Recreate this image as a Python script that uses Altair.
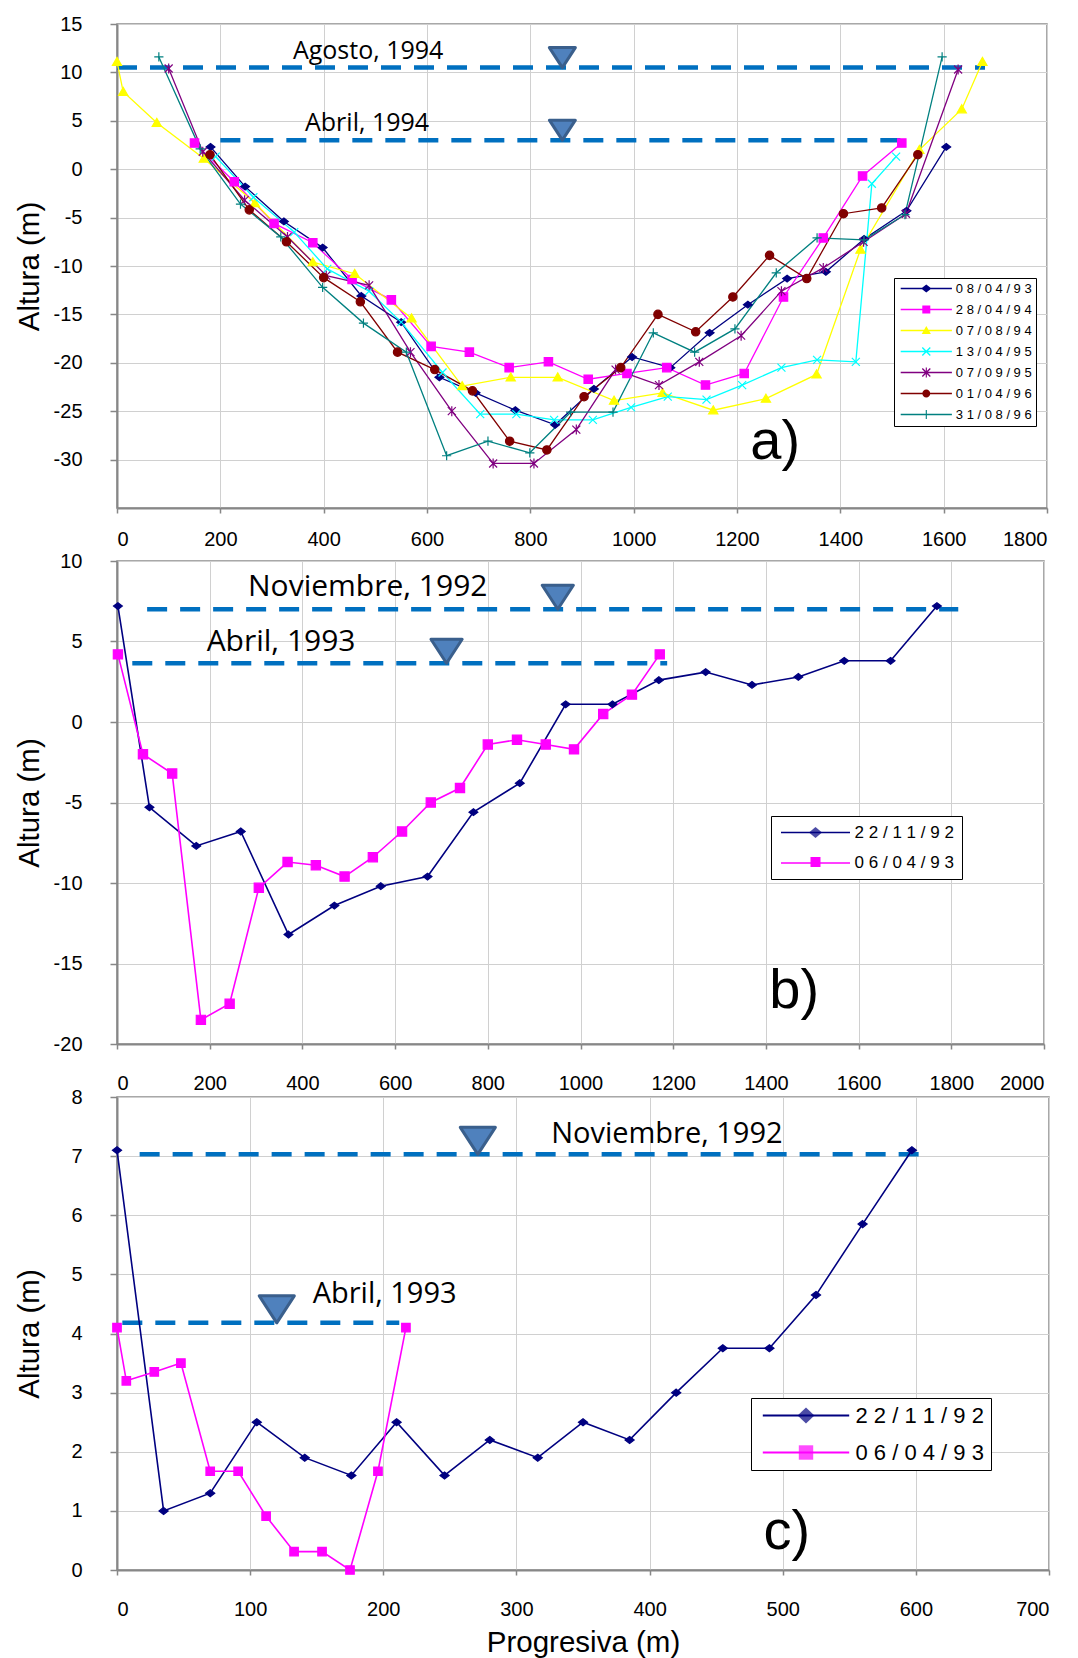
import altair as alt
import pandas as pd

# ====================== Panel a) ======================
A_NAMES = ["08/04/93", "28/04/94", "07/08/94", "13/04/95", "07/09/95", "01/04/96", "31/08/96"]
A_COLORS = ["#000080", "#FF00FF", "#FFFF00", "#00FFFF", "#800080", "#800000", "#008080"]

A_X_080493 = [181, 248, 323, 398, 473, 550, 624, 694, 771, 848, 923, 997, 1071, 1147, 1221, 1297, 1372, 1446, 1528, 1605]
A_Y_080493 = [2.3, -1.8, -5.4, -8.1, -13.1, -15.8, -21.5, -23.1, -24.9, -26.4, -22.7, -19.4, -20.5, -16.9, -14.0, -11.3, -10.6, -7.2, -4.3, 2.3]
A_X_280494 = [150, 227, 304, 379, 455, 531, 608, 682, 759, 835, 912, 987, 1064, 1139, 1214, 1290, 1367, 1443, 1519]
A_Y_280494 = [2.7, -1.3, -5.6, -7.6, -11.4, -13.5, -18.3, -18.9, -20.5, -19.9, -21.7, -21.1, -20.5, -22.3, -21.1, -13.2, -7.1, -0.7, 2.7]
A_X_070894 = [0, 12, 77, 168, 267, 379, 460, 570, 668, 762, 853, 962, 1056, 1154, 1256, 1354, 1439, 1553, 1635, 1675]
A_Y_070894 = [11.1, 8.0, 4.8, 1.1, -3.5, -9.6, -10.8, -15.4, -22.4, -21.5, -21.5, -23.9, -23.1, -24.9, -23.7, -21.2, -8.3, 2.0, 6.2, 11.1]
A_X_130495 = [191, 264, 343, 407, 488, 550, 630, 703, 773, 846, 921, 995, 1066, 1141, 1210, 1286, 1355, 1430, 1461, 1508]
A_Y_130495 = [1.3, -2.9, -6.5, -10.3, -12.6, -15.8, -21.0, -25.3, -25.3, -25.9, -25.9, -24.6, -23.5, -23.8, -22.3, -20.5, -19.7, -19.9, -1.5, 1.3]
A_X_070995 = [100, 166, 247, 330, 405, 488, 568, 648, 728, 807, 889, 965, 1049, 1127, 1208, 1286, 1367, 1445, 1527, 1628]
A_Y_070995 = [10.4, 1.8, -3.2, -7.0, -11.0, -12.0, -18.9, -25.0, -30.4, -30.4, -26.9, -20.7, -22.3, -19.9, -17.2, -12.6, -10.2, -7.5, -4.6, 10.3]
A_X_010496 = [180, 256, 328, 400, 471, 543, 615, 688, 760, 832, 904, 975, 1047, 1120, 1192, 1263, 1335, 1406, 1480, 1550]
A_Y_010496 = [1.5, -4.2, -7.5, -11.2, -13.7, -18.9, -20.7, -22.9, -28.1, -29.0, -23.5, -20.5, -15.0, -16.8, -13.2, -8.9, -11.3, -4.6, -4.0, 1.5]
A_X_310896 = [81, 161, 239, 317, 398, 477, 560, 638, 718, 799, 878, 960, 1038, 1118, 1196, 1276, 1355, 1446, 1525, 1597]
A_Y_310896 = [11.6, 2.1, -3.6, -7.0, -12.2, -15.9, -18.9, -29.6, -28.1, -29.3, -25.1, -25.1, -16.9, -18.9, -16.5, -10.7, -7.1, -7.3, -4.7, 11.6]

A_WATER_NAME = ["Agosto, 1994", "Abril, 1994"]
A_WATER_LEVEL = [10.5, 3.0]
A_WATER_FROM = [0, 200]
A_WATER_TO = [1680, 1525]
A_WATER_SYMBOL_X = [862, 862]
A_WATER_LABEL_X = [486, 484]
A_WATER_LABEL_Y = [12.25, 4.8]
A_TAG = ["a)"]
A_TAG_X = [1274]
A_TAG_Y = [-28.2]

# ====================== Panel b) ======================
B_NAMES = ["22/11/92", "06/04/93"]
B_COLORS = ["#000080", "#FF00FF"]
B_X_221192 = [2, 70, 171, 267, 370, 469, 569, 670, 769, 869, 968, 1069, 1169, 1270, 1370, 1470, 1569, 1669, 1769]
B_Y_221192 = [7.2, -5.3, -7.7, -6.8, -13.2, -11.4, -10.2, -9.6, -5.6, -3.8, 1.1, 1.1, 2.6, 3.1, 2.3, 2.8, 3.8, 3.8, 7.2]
B_X_060493 = [2, 56, 119, 181, 243, 306, 368, 429, 491, 552, 615, 677, 740, 800, 863, 925, 986, 1049, 1111, 1171]
B_Y_060493 = [4.2, -2.0, -3.2, -18.5, -17.5, -10.3, -8.7, -8.9, -9.6, -8.4, -6.8, -5.0, -4.1, -1.4, -1.1, -1.4, -1.7, 0.5, 1.7, 4.2]

B_WATER_NAME = ["Noviembre, 1992", "Abril, 1993"]
B_WATER_LEVEL = [7.0, 3.65]
B_WATER_FROM = [65, 33]
B_WATER_TO = [1815, 1187]
B_WATER_SYMBOL_X = [951, 711]
B_WATER_LABEL_X = [541, 354]
B_WATER_LABEL_Y = [8.39, 4.97]
B_TAG = ["b)"]
B_TAG_X = [1461]
B_TAG_Y = [-16.7]

# ====================== Panel c) ======================
C_NAMES = ["22/11/92", "06/04/93"]
C_COLORS = ["#000080", "#FF00FF"]
C_X_221192 = [0, 35, 70, 105, 141, 176, 210, 246, 280, 316, 350, 385, 420, 455, 490, 525, 560, 597]
C_Y_221192 = [7.1, 1.0, 1.3, 2.5, 1.9, 1.6, 2.5, 1.6, 2.2, 1.9, 2.5, 2.2, 3.0, 3.75, 3.75, 4.65, 5.85, 7.1]
C_X_060493 = [0, 7, 28, 48, 70, 91, 112, 133, 154, 175, 196, 217]
C_Y_060493 = [4.1, 3.2, 3.35, 3.5, 1.67, 1.67, 0.91, 0.31, 0.31, 0.0, 1.67, 4.1]

C_WATER_NAME = ["Noviembre, 1992", "Abril, 1993"]
C_WATER_LEVEL = [7.03, 4.18]
C_WATER_FROM = [17, 4]
C_WATER_TO = [606, 212]
C_WATER_SYMBOL_X = [271, 120]
C_WATER_LABEL_X = [413, 201]
C_WATER_LABEL_Y = [7.37, 4.66]
C_TAG = ["c)"]
C_TAG_X = [503]
C_TAG_Y = [0.65]

# ====================== marker shapes (plot) ======================
DIAMOND = "M0,-1L1.3,0L0,1L-1.3,0Z"
SQUARE = "M-1,-1L1,-1L1,1L-1,1Z"
TRIANGLE = "M0,-1.1L1.15,0.9L-1.15,0.9Z"
XMARK = "M-1,-1L1,1M-1,1L1,-1"
ASTER = "M-1,-1L1,1M-1,1L1,-1M0,-1.25L0,1.25"
CIRCLE = "M-1,0A1,1,0,1,1,1,0A1,1,0,1,1,-1,0Z"
PLUS = "M-1.15,0L1.15,0M0,-1.15L0,1.15"
DOWN_TRI = "M-1.3,-2L1.3,-2L0,0Z"

# ====================== filled legend glyphs ======================
X_F = "M-0.88,-1.12L1.12,0.88L0.88,1.12L-1.12,-0.88ZM-1.12,0.88L0.88,-1.12L1.12,-0.88L-0.88,1.12Z"
VBAR_F = "M-0.14,-1.25L0.14,-1.25L0.14,1.25L-0.14,1.25Z"
PLUS_F = "M-1.15,-0.14L1.15,-0.14L1.15,0.14L-1.15,0.14ZM-0.14,-1.15L0.14,-1.15L0.14,1.15L-0.14,1.15Z"
LINE_A = "M-6.4,-0.16L6.4,-0.16L6.4,0.16L-6.4,0.16Z"
A_LEG_PATHS = [LINE_A + p for p in [DIAMOND, SQUARE, TRIANGLE, X_F, X_F + VBAR_F, CIRCLE, PLUS_F]]
LINE_B = "M-6.9,-0.16L6.9,-0.16L6.9,0.16L-6.9,0.16Z"
DIAMOND_B = "M0,-1.1L1.3,0L0,1.1L-1.3,0Z"
SQUARE_B = "M-1,-1L1,-1L1,1L-1,1Z"
LINE_C = "M-5.4,0L5.4,0"
DIAMOND_C = "M0,-1L1.05,0L0,1L-1.05,0Z"
SQUARE_C = "M-0.9,-0.9L0.9,-0.9L0.9,0.9L-0.9,0.9Z"

AXIS_LABEL = "'' + datum.value"
FONT = "Liberation Sans, Arial, sans-serif"
NAVY = "#000080"
MAGENTA = "#FF00FF"


def make_df(names, xs, ys):
    rows = []
    for n, xl, yl in zip(names, xs, ys):
        for i, (xv, yv) in enumerate(zip(xl, yl)):
            rows.append({"serie": n, "x": xv, "y": yv, "i": i, "v": 1})
    return pd.DataFrame(rows)


def panel(cfg, legend_layers_fn):
    df = make_df(cfg["names"], cfg["xs"], cfg["ys"])
    wdf = pd.DataFrame({
        "nombre": cfg["w_name"], "nivel": cfg["w_level"], "desde": cfg["w_from"],
        "hasta": cfg["w_to"], "simbolo": cfg["w_sym"], "lx": cfg["w_lx"], "ly": cfg["w_ly"],
    })
    tdf = pd.DataFrame({"t": cfg["tag"], "x": cfg["tag_x"], "y": cfg["tag_y"]})

    xscale = alt.Scale(domain=cfg["xdom"], nice=False, zero=False)
    yscale = alt.Scale(domain=cfg["ydom"], nice=False, zero=False)
    xaxis = alt.Axis(values=cfg["xticks"], grid=True, tickSize=5, labelExpr=AXIS_LABEL,
                     labelPadding=cfg["xlabpad"], titlePadding=9)
    yaxis = alt.Axis(values=cfg["yticks"], grid=True, tickSize=7, labelPadding=28, labelExpr=AXIS_LABEL,
                     minExtent=64, maxExtent=64, titlePadding=9)

    def X(f):
        return alt.X(f"{f}:Q", scale=xscale, axis=xaxis, title=cfg["xtitle"])

    def Y(f):
        return alt.Y(f"{f}:Q", scale=yscale, axis=yaxis, title="Altura (m)")

    layers = [
        alt.Chart(wdf).mark_rule(color="#0070C0", strokeWidth=4.5, strokeDash=[20, 13])
        .encode(x=X("desde"), x2="hasta:Q", y=Y("nivel"))
    ]
    for n, col in zip(cfg["names"], cfg["colors"]):
        layers.append(
            alt.Chart(df).transform_filter(alt.datum.serie == n)
            .mark_line(strokeWidth=cfg["lw"], color=col)
            .encode(x=X("x"), y=Y("y"), order="i:Q")
        )
    for n, col, shp, sz in zip(cfg["names"], cfg["colors"], cfg["markers"], cfg["msizes"]):
        layers.append(
            alt.Chart(df).transform_filter(alt.datum.serie == n)
            .mark_point(shape=shp, size=sz, filled=True, color=col, stroke=col,
                        strokeWidth=cfg["msw"], opacity=1)
            .encode(x=X("x"), y=Y("y"))
        )
    layers.append(
        alt.Chart(wdf).mark_point(shape=DOWN_TRI, size=cfg["tri_size"], filled=True, color="#4F81BD",
                                  stroke="#3A5F8C", strokeWidth=3, strokeJoin="round", opacity=1)
        .encode(x=X("simbolo"), y=Y("nivel"))
    )
    layers.append(
        alt.Chart(wdf).mark_text(font="Open Sans", fontSize=cfg["ann_size"], color="black",
                                 align="center", baseline="middle")
        .encode(x=X("lx"), y=Y("ly"), text="nombre:N")
    )
    layers.append(
        alt.Chart(tdf).mark_text(font=FONT, fontSize=56, color="black",
                                 align="center", baseline="middle")
        .encode(x=X("x"), y=Y("y"), text="t:N")
    )
    layers.extend(legend_layers_fn(df))
    return alt.layer(*layers).properties(width=cfg["w"], height=cfg["h"])


def spaced(name, sep=" "):
    return sep.join(list(name))


# ---------------- legends (top-level, positioned from panel a origin) ----------------
A_LABELS = [spaced(n) for n in A_NAMES]
B_LABELS = [spaced(n) for n in B_NAMES]
C_LABELS = [spaced(n, "\u00a0") for n in C_NAMES]
B_OFF = 537    # panel b top relative to panel a top
C_OFF = 1073   # panel c top relative to panel a top


def legends_a(df):
    ldf = pd.DataFrame({"lab": A_LABELS})
    leg = alt.Legend(title=None, orient="none", legendX=777, legendY=254, direction="vertical",
                     padding=4, rowPadding=7, symbolSize=64, symbolStrokeWidth=0,
                     symbolOffset=21.8, labelOffset=23, labelFont=FONT, labelFontSize=13,
                     labelColor="black", strokeColor="black", fillColor="white", labelLimit=400)
    return [
        alt.Chart(ldf).transform_filter("false").mark_point(filled=True, strokeWidth=0, opacity=1)
        .encode(
            fill=alt.Fill("lab:N", scale=alt.Scale(domain=A_LABELS, range=A_COLORS), legend=leg),
            shape=alt.Shape("lab:N", scale=alt.Scale(domain=A_LABELS, range=A_LEG_PATHS), legend=leg),
        )
    ]


def legends_b(df):
    ldf = pd.DataFrame({"lab": B_LABELS, "v": [1, 1]})
    x0, y0, pad, rp, size_, soff, fs = 654, 255 + B_OFF, 8, 12.5, 17, 28, 17
    leg_line = alt.Legend(title=None, orient="none", legendX=x0, legendY=y0, direction="vertical",
                          padding=pad, rowPadding=rp, symbolSize=100, symbolStrokeWidth=0,
                          symbolType=LINE_B, symbolOffset=soff, labelOffset=30.6, labelFont=FONT,
                          labelFontSize=fs, labelColor="black", strokeColor="black",
                          fillColor="white", labelLimit=400)
    leg_d = alt.Legend(title=None, orient="none", legendX=x0, legendY=y0, direction="vertical",
                       padding=pad, symbolOffset=soff, symbolStrokeWidth=0, labelFontSize=fs,
                       labelExpr="''", values=[1], symbolFillColor=NAVY)
    leg_s = alt.Legend(title=None, orient="none", legendX=x0, legendY=y0 + size_ + rp, direction="vertical",
                       padding=pad, symbolOffset=soff, symbolSize=100, symbolStrokeWidth=0,
                       labelFontSize=fs, labelExpr="''", values=[2], symbolFillColor=MAGENTA)
    return [
        alt.Chart(ldf).transform_filter("false").mark_point(filled=True, shape=LINE_B, strokeWidth=0, opacity=1)
        .encode(color=alt.Color("lab:N", scale=alt.Scale(domain=B_LABELS, range=B_COLORS), legend=leg_line)),
        alt.Chart(ldf).transform_filter("false").mark_point(filled=True, shape=DIAMOND_B, color=NAVY, strokeWidth=0)
        .encode(size=alt.Size("v:Q", scale=alt.Scale(domain=[0, 1], range=[100, 100]), legend=leg_d)),
        alt.Chart(ldf).transform_filter("false").mark_point(filled=True, shape=SQUARE_B, color=MAGENTA, strokeWidth=0)
        .encode(opacity=alt.Opacity("v:Q", scale=alt.Scale(domain=[0, 2], range=[1, 1]), legend=leg_s)),
    ]


def legends_c(df):
    ldf = pd.DataFrame({"lab": C_LABELS, "v": [1, 1], "k": ["c2", "c2"]})
    x0, y0, pad, rp, size_, soff, fs = 634, 1374, 6.5, 15, 22, 37.5, 22
    leg_line = alt.Legend(title=None, orient="none", legendX=x0, legendY=y0, direction="vertical",
                          padding=pad, rowPadding=rp, symbolSize=256, symbolStrokeWidth=2.2,
                          symbolType=LINE_C, symbolOffset=soff, labelOffset=38.5, labelFont=FONT,
                          labelFontSize=fs, labelColor="black", strokeColor="black",
                          fillColor="white", labelLimit=400)
    leg_d = alt.Legend(title=None, orient="none", legendX=x0, legendY=y0, direction="vertical",
                       padding=pad, symbolOffset=soff, symbolSize=256, labelFontSize=fs,
                       labelExpr="''", values=[3], symbolFillColor=NAVY, symbolStrokeColor=NAVY)
    leg_s = alt.Legend(title=None, orient="none", legendX=x0, legendY=y0 + size_ + rp, direction="vertical",
                       padding=pad, symbolOffset=soff, symbolSize=256, symbolStrokeWidth=0,
                       labelFontSize=fs, labelExpr="''", symbolFillColor=MAGENTA)
    return [
        alt.Chart(ldf).transform_filter("false").mark_point(filled=False, shape=LINE_C, strokeWidth=2.2, opacity=1)
        .encode(stroke=alt.Stroke("lab:N", scale=alt.Scale(domain=C_LABELS, range=C_COLORS), legend=leg_line)),
        alt.Chart(ldf).transform_filter("false").mark_point(filled=True, shape=DIAMOND_C, color=NAVY, stroke=NAVY)
        .encode(strokeWidth=alt.StrokeWidth("v:Q", scale=alt.Scale(domain=[0, 3], range=[0.5, 0.5]), legend=leg_d)),
        alt.Chart(ldf).transform_filter("false").mark_point(filled=True, shape=SQUARE_C, color=MAGENTA, strokeWidth=0)
        .encode(strokeDash=alt.StrokeDash("k:N", scale=alt.Scale(domain=["c2"], range=[[1, 0]]), legend=leg_s)),
    ]


cfg_a = dict(
    names=A_NAMES, colors=A_COLORS,
    xs=[A_X_080493, A_X_280494, A_X_070894, A_X_130495, A_X_070995, A_X_010496, A_X_310896],
    ys=[A_Y_080493, A_Y_280494, A_Y_070894, A_Y_130495, A_Y_070995, A_Y_010496, A_Y_310896],
    markers=[DIAMOND, SQUARE, TRIANGLE, XMARK, ASTER, CIRCLE, PLUS],
    msizes=[46, 70, 64, 64, 64, 70, 64], msw=1.2, lw=1.3,
    xdom=[0, 1800], xticks=list(range(0, 1801, 200)),
    ydom=[-35, 15], yticks=list(range(-30, 16, 5)),
    w=930, h=484, xlabpad=16.5, xtitle=None,
    w_name=A_WATER_NAME, w_level=A_WATER_LEVEL, w_from=A_WATER_FROM, w_to=A_WATER_TO,
    w_sym=A_WATER_SYMBOL_X, w_lx=A_WATER_LABEL_X, w_ly=A_WATER_LABEL_Y,
    tag=A_TAG, tag_x=A_TAG_X, tag_y=A_TAG_Y, tri_size=400, ann_size=25,
)

cfg_b = dict(
    names=B_NAMES, colors=B_COLORS,
    xs=[B_X_221192, B_X_060493], ys=[B_Y_221192, B_Y_060493],
    markers=[DIAMOND, SQUARE], msizes=[46, 85], msw=1.2, lw=1.6,
    xdom=[0, 2000], xticks=list(range(0, 2001, 200)),
    ydom=[-20, 10], yticks=list(range(-20, 11, 5)),
    w=927, h=483, xlabpad=24.5, xtitle=None,
    w_name=B_WATER_NAME, w_level=B_WATER_LEVEL, w_from=B_WATER_FROM, w_to=B_WATER_TO,
    w_sym=B_WATER_SYMBOL_X, w_lx=B_WATER_LABEL_X, w_ly=B_WATER_LABEL_Y,
    tag=B_TAG, tag_x=B_TAG_X, tag_y=B_TAG_Y, tri_size=576, ann_size=30,
)

cfg_c = dict(
    names=C_NAMES, colors=C_COLORS,
    xs=[C_X_221192, C_X_060493], ys=[C_Y_221192, C_Y_060493],
    markers=[DIAMOND, SQUARE], msizes=[49, 72], msw=1.2, lw=1.6,
    xdom=[0, 700], xticks=list(range(0, 701, 100)),
    ydom=[0, 8], yticks=list(range(0, 9, 1)),
    w=932, h=473, xlabpad=24, xtitle="Progresiva (m)",
    w_name=C_WATER_NAME, w_level=C_WATER_LEVEL, w_from=C_WATER_FROM, w_to=C_WATER_TO,
    w_sym=C_WATER_SYMBOL_X, w_lx=C_WATER_LABEL_X, w_ly=C_WATER_LABEL_Y,
    tag=C_TAG, tag_x=C_TAG_X, tag_y=C_TAG_Y, tri_size=729, ann_size=29,
)

chart = (
    alt.vconcat(panel(cfg_a, legends_a), panel(cfg_b, legends_b), panel(cfg_c, legends_c),
                spacing=53, bounds="flush")
    .configure_view(stroke="#8C8C8C", strokeWidth=1.5)
    .configure_axis(
        labelFont=FONT, labelFontSize=20, labelColor="black",
        titleFont=FONT, titleFontSize=29.5, titleFontWeight="normal", titleColor="black",
        gridColor="#D0D0D0", gridWidth=1, domainColor="#878787", domainWidth=2,
        tickColor="#878787", tickWidth=1.5,
    )
)

chart.save("out.html", embed_options={"renderer": "svg", "actions": False})
